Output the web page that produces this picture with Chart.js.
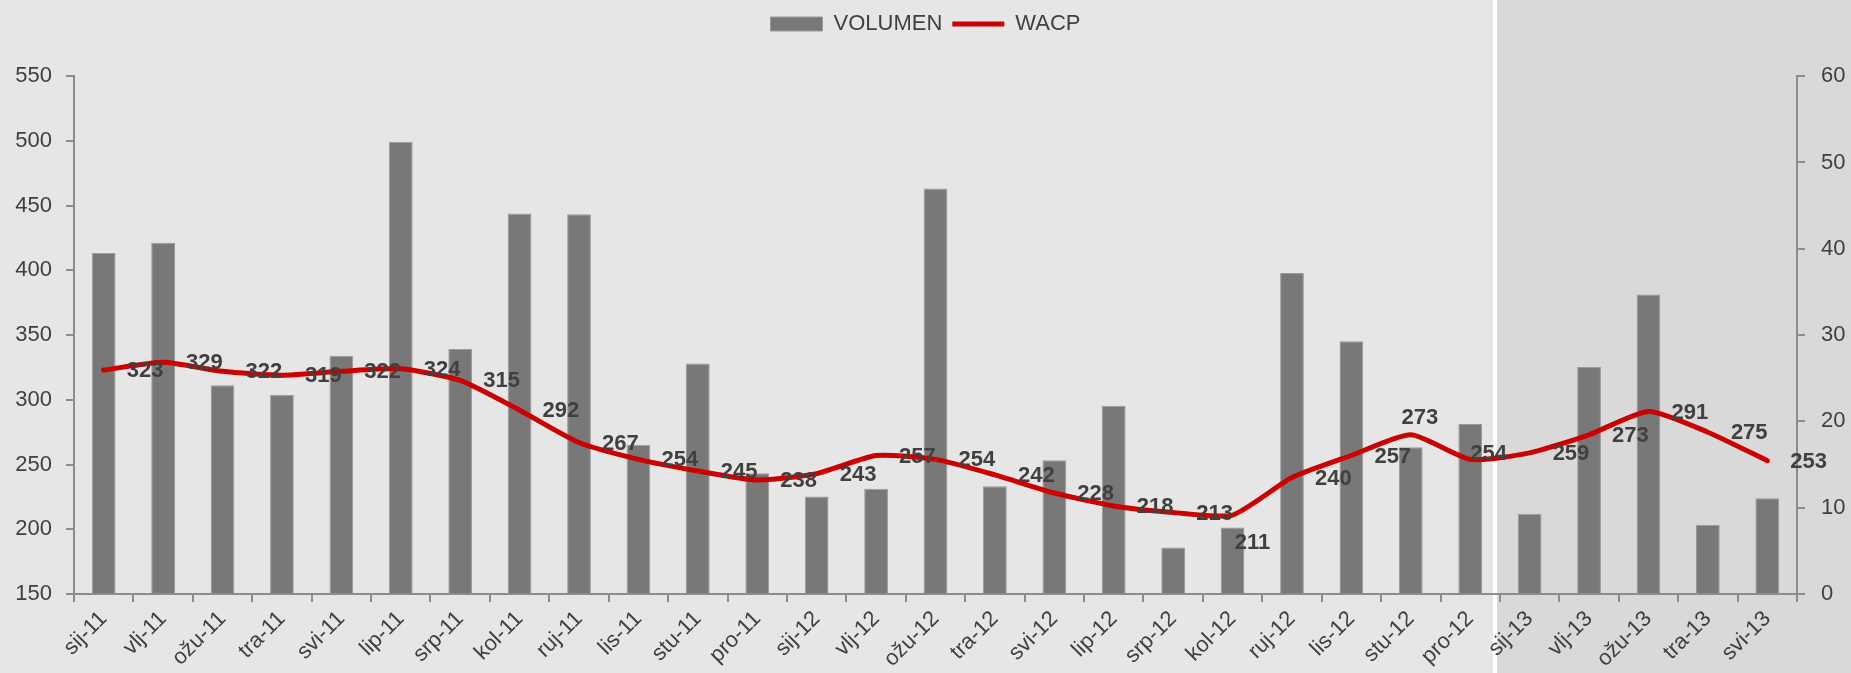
<!DOCTYPE html>
<html>
<head>
<meta charset="utf-8">
<script src="https://cdn.jsdelivr.net/npm/chart.js@4.4.1/dist/chart.umd.min.js"></script>
<style>
  html, body { margin: 0; padding: 0; background: #e6e6e6; }
  #wrap { width: 1851px; height: 673px; }
</style>
</head>
<body>
<div id="wrap"><canvas id="wacpChart"></canvas></div>
<script>
const months = ['sij-11', 'vlj-11', 'ožu-11', 'tra-11', 'svi-11', 'lip-11', 'srp-11', 'kol-11', 'ruj-11', 'lis-11', 'stu-11', 'pro-11',
                'sij-12', 'vlj-12', 'ožu-12', 'tra-12', 'svi-12', 'lip-12', 'srp-12', 'kol-12', 'ruj-12', 'lis-12', 'stu-12', 'pro-12',
                'sij-13', 'vlj-13', 'ožu-13', 'tra-13', 'svi-13'];
const volumen = [39.5, 40.7, 24.2, 23.1, 27.6, 52.4, 28.4, 44.1, 44.0, 17.3, 26.7, 14.0,
                 11.3, 12.2, 47.0, 12.5, 15.5, 21.8, 5.4, 7.7, 37.2, 29.3, 17.0, 19.7,
                 9.3, 26.3, 34.7, 8.0, 11.1];
const wacp = [323, 329, 322, 319, 322, 324, 315, 292, 267, 254, 245, 238,
              243, 257, 254, 242, 228, 218, 213, 211, 240, 257, 273, 254,
              259, 273, 291, 275, 253];
const leftTicks = [150, 550, 50];   // min, max, step
const rightTicks = [0, 60, 10];
const forecastStart = 24;           // first month in the shaded part (sij-13)

// a few labels sit somewhere other than right of the point
const labelPlacement = { 19: 'below', 22: 'above', 23: 'on' };

const FONT = "'Liberation Sans', Arial, sans-serif";
const FS = 22;
const TEXT = '#404040';
const AXIS = '#8c8c8c';

const backdrop = {
    id: 'backdrop',
    beforeDraw(chart) {
        const ctx = chart.ctx;
        const x = chart.scales.x;
        const split = (x.getPixelForValue(forecastStart - 1) + x.getPixelForValue(forecastStart)) / 2 - 3;
        ctx.save();
        ctx.fillStyle = '#e6e6e6';
        ctx.fillRect(0, 0, chart.width, chart.height);
        ctx.fillStyle = '#d9d9d9';
        ctx.fillRect(split, 0, chart.width - split, chart.height);
        ctx.fillStyle = '#ffffff';
        ctx.fillRect(split - 4, 0, 4, chart.height);
        ctx.restore();
    }
};

const wacpLabels = {
    id: 'wacpLabels',
    afterDatasetsDraw(chart) {
        const ctx = chart.ctx;
        const meta = chart.getDatasetMeta(1);
        ctx.save();
        ctx.font = 'bold ' + FS + 'px ' + FONT;
        ctx.fillStyle = TEXT;
        ctx.textBaseline = 'middle';
        meta.data.forEach(function (pt, i) {
            const txt = String(wacp[i]);
            const where = labelPlacement[i];
            if (where === 'above') {
                ctx.textAlign = 'center';
                ctx.fillText(txt, pt.x + 9, pt.y - 17);
            } else if (where === 'below') {
                ctx.textAlign = 'center';
                ctx.fillText(txt, pt.x + 20, pt.y + 28);
            } else if (where === 'on') {
                ctx.textAlign = 'left';
                ctx.fillText(txt, pt.x, pt.y - 5);
            } else {
                ctx.textAlign = 'left';
                ctx.fillText(txt, pt.x + 23, pt.y + 1);
            }
        });
        ctx.restore();
    }
};

Chart.defaults.font.family = FONT;
Chart.defaults.font.size = FS;
Chart.defaults.color = TEXT;

const ctx = document.getElementById('wacpChart').getContext('2d');
new Chart(ctx, {
    data: {
        labels: months,
        datasets: [{
            type: 'bar',
            label: 'VOLUMEN',
            data: volumen,
            yAxisID: 'y1',
            backgroundColor: '#787878',
            borderColor: '#9a9a9a',
            borderWidth: 1,
            barPercentage: 0.4,
            categoryPercentage: 1,
            pointStyle: 'rect',
            order: 1
        }, {
            type: 'line',
            label: 'WACP',
            data: wacp,
            yAxisID: 'y',
            borderColor: '#cc0000',
            backgroundColor: '#cc0000',
            borderWidth: 5,
            borderCapStyle: 'round',
            tension: 0.2,
            pointRadius: 0,
            pointStyle: 'line',
            order: 0
        }]
    },
    options: {
        responsive: true,
        maintainAspectRatio: false,
        animation: false,
        layout: { padding: { top: 3 } },
        plugins: {
            legend: {
                position: 'top',
                weight: 1000,
                labels: {
                    usePointStyle: true,
                    pointStyleWidth: 52,
                    boxHeight: 14,
                    padding: 10,
                    color: TEXT,
                    font: { size: FS },
                    sort: (a, b) => a.datasetIndex - b.datasetIndex
                }
            },
            // empty title used as spacer between legend and plot
            title: { display: true, text: '', weight: 500, padding: { top: 0, bottom: 12 }, font: { size: 16 } },
            tooltip: { enabled: false }
        },
        scales: {
            x: {
                offset: true,
                grid: { offset: true, drawOnChartArea: false, drawTicks: true, tickLength: 8, color: AXIS, lineWidth: 2 },
                border: { color: AXIS, width: 2 },
                ticks: { autoSkip: false, maxRotation: 45, minRotation: 45, padding: 4, color: TEXT },
                afterFit(scale) { scale.height = 79; }
            },
            y: {
                position: 'left',
                min: leftTicks[0],
                max: leftTicks[1],
                ticks: { stepSize: leftTicks[2], padding: 14, color: TEXT },
                grid: { drawOnChartArea: false, drawTicks: true, tickLength: 8, color: AXIS, lineWidth: 2 },
                border: { color: AXIS, width: 2 },
                afterFit(scale) { scale.width = 74; }
            },
            y1: {
                position: 'right',
                min: rightTicks[0],
                max: rightTicks[1],
                ticks: { stepSize: rightTicks[2], padding: 16, color: TEXT },
                grid: { drawOnChartArea: false, drawTicks: true, tickLength: 8, color: AXIS, lineWidth: 2 },
                border: { color: AXIS, width: 2 },
                afterFit(scale) { scale.width = 54; }
            }
        }
    },
    plugins: [backdrop, wacpLabels]
});
</script>
</body>
</html>
